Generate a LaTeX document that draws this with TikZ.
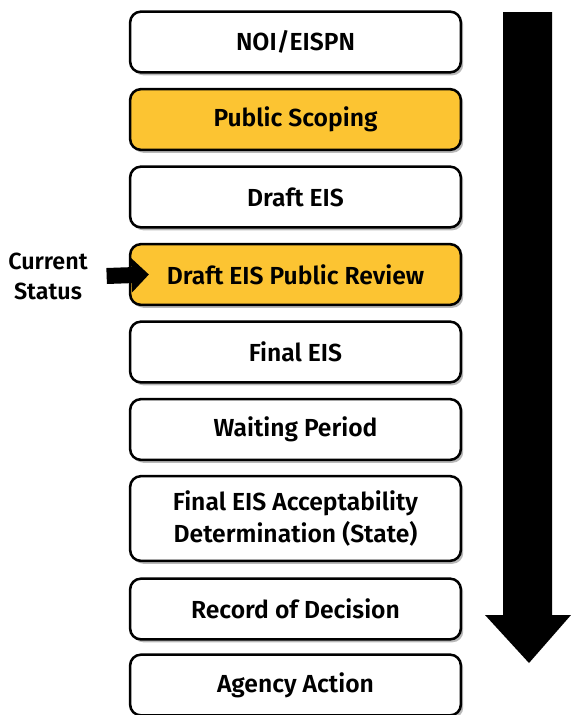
\documentclass[tikz,border=0pt]{standalone}
\usepackage{fontspec}
\setmainfont{Fira Sans}[BoldFont={Fira Sans SemiBold}]
\usetikzlibrary{shadows,arrows.meta}
\definecolor{stepyellow}{RGB}{252,196,50}
\tikzset{
  stage/.style={draw=black,line width=1.9pt,rounded corners=8pt,fill=white,
    minimum width=248pt,minimum height=45.5pt,align=center,
    font=\fontsize{18.5}{24}\selectfont\bfseries,
    drop shadow={shadow xshift=1.8pt,shadow yshift=-2.2pt,opacity=0.55}},
  current/.style={stage,fill=stepyellow}
}
\begin{document}
\begin{tikzpicture}[x=0.75pt,y=-0.75pt]
  \useasboundingbox (0,0) rectangle (571,715);

  % Process stages
  \node[stage]   (noi)     at (295.5,42)    {NOI/EISPN};
  \node[current] (scoping) at (295.5,119.5) {Public Scoping};
  \node[stage]   (draft)   at (295.5,197)   {Draft EIS};
  \node[current] (review)  at (295.5,274.5) {Draft EIS Public Review};
  \node[stage]   (final)   at (295.5,352)   {Final EIS};
  \node[stage]   (waiting) at (295.5,429.5) {Waiting Period};
  \node[stage,minimum height=63.5pt] (accept) at (295.5,518.5)
    {Final EIS Acceptability\\Determination (State)};
  \node[stage]   (rod)     at (295.5,609)   {Record of Decision};
  \node[stage]   (action)  at (295.5,685)   {Agency Action};

  % Status marker
  \node[align=center,inner sep=0pt,font=\fontsize{17.5}{22.5}\selectfont\bfseries]
    (status) at (48,276) {Current\\Status};
  \draw[line width=12pt,-{Triangle[length=13pt,width=25pt]}]
    ([xshift=14pt]status.east) -- ([xshift=15pt]review.west);

  % Direction arrow
  \fill[black] (503,12) -- (552,12) -- (552,615) -- (571,615)
    -- (529,663) -- (485,615) -- (503,615) -- cycle;
\end{tikzpicture}
\end{document}
